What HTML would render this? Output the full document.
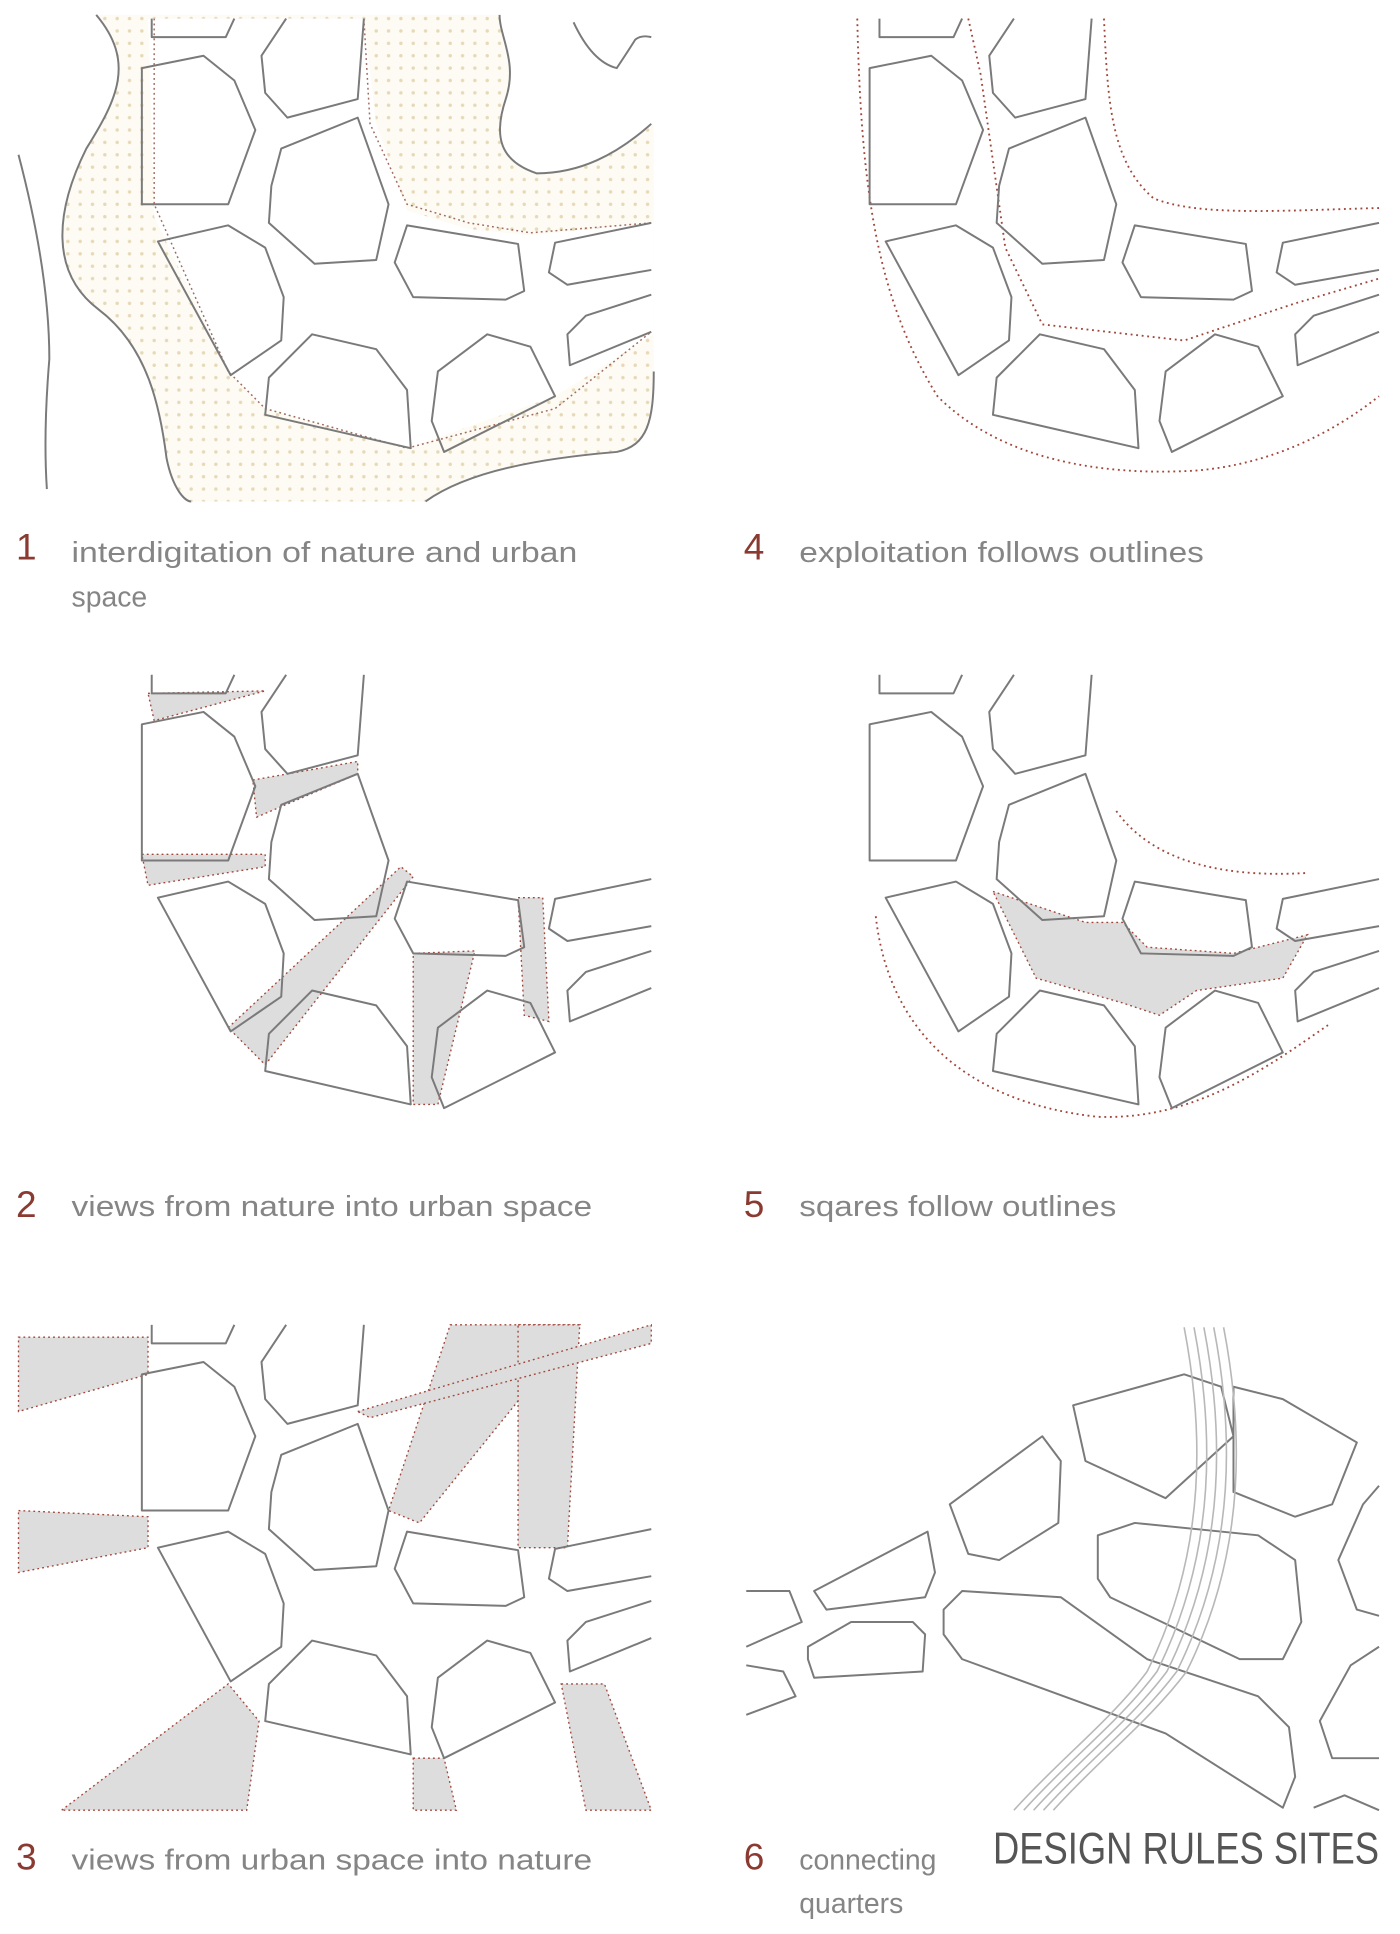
<!DOCTYPE html>
<html><head><meta charset="utf-8"><style>html,body{margin:0;padding:0;background:#fff}svg{display:block}</style></head>
<body>
<svg width="1400" height="1934" viewBox="0 0 1135 1562" preserveAspectRatio="none" xmlns="http://www.w3.org/2000/svg">
<defs>
<pattern id="dots" width="10" height="10" patternUnits="userSpaceOnUse"><rect width="10" height="10" fill="#fdfbf4"/><circle cx="5" cy="5" r="1.4" fill="#e6d9b8"/></pattern>
<g id="city" fill="none" stroke="#7a7a7a" stroke-width="1.6" stroke-linejoin="round">
<polyline points="123,15 123,30 183,30 190,15"/>
<polyline points="232,15 212,45 215,75 233,95 290,80 295,15"/>
<polygon points="115,55 165,45 190,65 207,105 185,165 115,165"/>
<polygon points="228,120 290,95 315,165 305,210 255,213 218,180 220,150"/>
<polygon points="128,195 185,182 215,200 230,240 228,275 187,303"/>
<polygon points="330,182 420,197 425,235 410,242 335,240 320,212"/>
<polyline points="528,180 450,196 445,220 460,230 528,218"/>
<polygon points="218,305 253,270 305,282 330,315 333,362 215,335"/>
<polygon points="355,300 395,270 430,280 450,320 360,365 350,340"/>
<polyline points="528,238 475,255 460,270 462,295 528,268"/>
</g>
</defs>

<!-- Panel 1 -->
<path d="M78,12 C110,50 95,80 70,120 C45,170 40,220 80,250 C120,280 130,330 135,370 C140,395 150,405 155,405 L345,405 C380,380 440,370 500,365 C525,360 530,340 530,300 L530,100 C500,125 470,140 435,140 C405,130 400,110 410,80 C420,50 405,30 405,12 Z" fill="url(#dots)"/>
<polygon points="120,15 295,15 305,100 330,170 380,185 430,190 530,180 530,270 450,320 330,362 215,330 185,300 125,175" fill="#fff"/>
<g fill="none" stroke="#7a7a7a" stroke-width="1.6">
<path d="M15,125 Q40,220 40,290 Q35,350 38,395"/>
<path d="M78,12 C110,50 95,80 70,120 C45,170 40,220 80,250 C120,280 130,330 135,370 C140,395 150,405 155,405"/>
<path d="M345,405 C380,380 440,370 500,365 C525,360 530,340 530,300"/>
<path d="M405,12 C405,30 420,50 410,80 C400,110 405,130 435,140 C470,140 500,125 528,100"/>
<path d="M465,18 Q480,50 500,55 Q510,40 515,32 Q520,28 528,30"/>
</g>
<path d="M125,15 L125,165 L185,300 L215,330 L330,362 L450,330 L528,268 M295,15 L300,100 L330,165 L380,180 L430,188 L528,180" fill="none" stroke="#a06a60" stroke-width="1.2" stroke-dasharray="1.5,2.5"/>
<use href="#city"/>

<!-- Panel 4 -->
<g transform="translate(590,0)">
<g fill="none" stroke="#a0463a" stroke-width="1.5" stroke-dasharray="1.5,3">
<path d="M105,15 C108,150 120,240 170,320 C220,370 300,385 380,380 C440,375 490,350 528,320"/>
<path d="M195,15 L205,60 L215,130 L225,200 L255,262 L370,275 L460,245 L528,225"/>
<path d="M305,15 C308,80 310,130 345,160 C380,175 450,170 528,168"/>
</g>
<use href="#city"/>
</g>

<!-- Panel 2 -->
<g transform="translate(0,530)">
<g fill="#ddd" stroke="#a0463a" stroke-width="1.1" stroke-dasharray="1.5,2.5">
<polygon points="120,30 215,28 125,52"/>
<polygon points="205,100 290,85 290,95 208,130"/>
<polygon points="115,160 215,160 215,170 120,185"/>
<polygon points="185,300 325,170 335,178 215,330"/>
<polygon points="335,240 385,238 355,362 335,362"/>
<polygon points="420,195 440,195 445,295 425,290"/>
</g>
<use href="#city"/>
</g>

<!-- Panel 5 -->
<g transform="translate(590,530)">
<polygon points="215,190 290,215 320,215 340,235 410,240 470,225 450,260 380,270 350,290 320,280 250,260 230,220" fill="#ddd" stroke="#a0463a" stroke-width="1.1" stroke-dasharray="1.5,2.5"/>
<g fill="none" stroke="#a0463a" stroke-width="1.5" stroke-dasharray="1.5,3">
<path d="M120,210 C130,300 190,360 300,372 C380,375 440,330 488,297"/>
<path d="M315,125 C340,160 390,180 470,175"/>
</g>
<use href="#city"/>
</g>

<!-- Panel 3 -->
<g transform="translate(0,1055)">
<g fill="#ddd" stroke="#a0463a" stroke-width="1.1" stroke-dasharray="1.5,2.5">
<polygon points="15,25 120,25 120,55 15,85"/>
<polygon points="15,165 120,170 120,195 15,215"/>
<polygon points="365,15 470,15 340,175 315,165"/>
<polygon points="420,15 470,15 460,195 420,195"/>
<polygon points="290,85 528,15 528,30 300,90"/>
<polygon points="50,407 185,305 210,335 200,407"/>
<polygon points="335,365 360,365 370,407 335,407"/>
<polygon points="455,305 490,305 528,407 475,407"/>
</g>
<use href="#city"/>
</g>

<!-- Panel 6 -->
<g fill="none" stroke="#7a7a7a" stroke-width="1.6" stroke-linejoin="round">
<polygon points="660,1285 752,1237 758,1270 750,1290 670,1300"/>
<polygon points="655,1330 690,1310 740,1310 750,1320 748,1350 660,1355 655,1340"/>
<polygon points="770,1215 845,1160 860,1180 858,1230 810,1260 785,1255"/>
<polygon points="870,1135 960,1110 990,1120 1000,1160 945,1210 880,1180"/>
<polygon points="1000,1120 1040,1130 1100,1165 1080,1215 1050,1225 1000,1205"/>
<polygon points="890,1240 920,1230 1020,1240 1050,1260 1055,1310 1040,1340 1005,1340 900,1290 890,1275"/>
<polygon points="765,1300 780,1285 860,1290 930,1340 1020,1370 1045,1395 1050,1435 1040,1460 945,1400 780,1340 765,1320"/>
<polyline points="605,1285 640,1285 650,1310 605,1330"/>
<polyline points="605,1345 635,1350 645,1370 605,1385"/>
<polyline points="1118,1200 1105,1215 1085,1260 1100,1300 1118,1305"/>
<polyline points="1118,1330 1095,1345 1070,1390 1080,1420 1118,1420"/>
<polyline points="1065,1460 1090,1450 1118,1462"/>
</g>
<g fill="none" stroke="#b8b8b8" stroke-width="1.3">
<path d="M960,1072 C975,1150 980,1250 930,1350 C900,1390 860,1420 822,1462"/>
<path d="M968,1072 C983,1150 988,1250 938,1350 C908,1390 868,1420 830,1462"/>
<path d="M976,1072 C991,1150 996,1250 946,1350 C916,1390 876,1420 838,1462"/>
<path d="M984,1072 C999,1150 1004,1250 954,1350 C924,1390 884,1420 846,1462"/>
<path d="M992,1072 C1007,1150 1012,1250 962,1350 C932,1390 892,1420 854,1462"/>
</g>

<!-- Labels -->
<g font-family="'Liberation Sans', sans-serif">
<g fill="#8a3a30" font-size="30">
<text x="13" y="452">1</text><text x="603" y="452">4</text>
<text x="13" y="983">2</text><text x="603" y="983">5</text>
<text x="13" y="1510">3</text><text x="603" y="1510">6</text>
</g>
<g fill="#858585" font-size="23">
<text x="58" y="454" textLength="410" lengthAdjust="spacingAndGlyphs">interdigitation of nature and urban</text>
<text x="58" y="490">space</text>
<text x="648" y="454" textLength="328" lengthAdjust="spacingAndGlyphs">exploitation follows outlines</text>
<text x="58" y="982" textLength="422" lengthAdjust="spacingAndGlyphs">views from nature into urban space</text>
<text x="648" y="982" textLength="257" lengthAdjust="spacingAndGlyphs">sqares follow outlines</text>
<text x="58" y="1510" textLength="422" lengthAdjust="spacingAndGlyphs">views from urban space into nature</text>
<text x="648" y="1510">connecting</text>
<text x="648" y="1545">quarters</text>
</g>
<text x="805" y="1505" fill="#555" font-size="36" font-family="'Liberation Sans Narrow','Liberation Sans',sans-serif" textLength="313" lengthAdjust="spacingAndGlyphs">DESIGN RULES SITES</text>
</g>
</svg>
</body></html>
